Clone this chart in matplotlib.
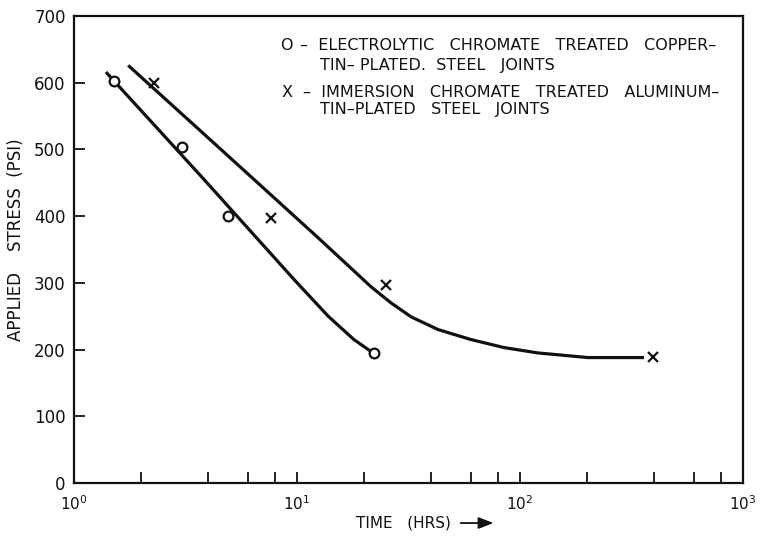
import matplotlib
matplotlib.use("Agg")
import matplotlib.pyplot as plt
from matplotlib.ticker import FixedLocator, NullFormatter

# --- data ---
copper_t = [1.51, 3.05, 4.9, 22.1]
copper_s = [602, 503, 400, 195]
alum_t = [2.28, 7.65, 25.1, 395]
alum_s = [600, 397, 297, 189]

# hand-drawn fitted curves (read as points along the drawn lines)
copper_curve_t = [1.39, 3.71, 6.9, 9.7, 13.8, 18.0, 21.5]
copper_curve_s = [616, 460, 360, 305, 250, 215, 197]
alum_curve_t = [1.75, 4.56, 12.4, 21.5, 26.4, 32.5, 42.9, 60.3, 84.8, 120, 202, 360]
alum_curve_s = [626, 500, 368, 294, 270, 249, 230, 215, 203, 195, 188, 188]

y_ticks = [0, 100, 200, 300, 400, 500, 600, 700]
x_major = [1, 10, 100, 1000]
x_major_labels = [r"$10^0$", r"$10^1$", r"$10^2$", r"$10^3$"]
legend_symbols = ["O", "X"]
legend_first = ["\u2013  ELECTROLYTIC   CHROMATE   TREATED   COPPER\u2013",
                "\u2013  IMMERSION   CHROMATE   TREATED   ALUMINUM\u2013"]
legend_second = ["TIN\u2013 PLATED.  STEEL   JOINTS",
                 "TIN\u2013PLATED   STEEL   JOINTS"]

plt.rcParams['font.family'] = ['DejaVu Sans']

fig = plt.figure(figsize=(7.61, 5.39), dpi=100)
ax = fig.add_axes([74/761, 1-483/539, (743-74)/761, (483-16)/539])

ax.set_xscale('log')
ax.set_xlim(1, 1000)
ax.set_ylim(0, 700)

lc = '#111111'
ax.plot(copper_curve_t, copper_curve_s, color=lc, lw=2.3, solid_capstyle='butt',
        solid_joinstyle='round')
ax.plot(alum_curve_t, alum_curve_s, color=lc, lw=2.3, solid_capstyle='butt',
        solid_joinstyle='round')
ax.plot(copper_t, copper_s, linestyle='none', marker='o', ms=7, mfc='white',
        mec=lc, mew=1.6, zorder=3)
ax.plot(alum_t, alum_s, linestyle='none', marker='x', ms=7, mec=lc, mew=1.6, zorder=3)

for s in ax.spines.values():
    s.set_linewidth(1.6)
    s.set_color(lc)

ax.yaxis.set_major_locator(FixedLocator(y_ticks))
ax.set_yticklabels([str(v) for v in y_ticks], fontsize=12, color=lc)
ax.xaxis.set_major_locator(FixedLocator(x_major))
ax.set_xticklabels(x_major_labels, fontsize=11, color=lc)
minors = [m * d for d in (1, 10, 100) for m in (2, 4, 6, 8)]
ax.xaxis.set_minor_locator(FixedLocator(minors))
ax.xaxis.set_minor_formatter(NullFormatter())
ax.tick_params(axis='both', which='both', direction='in', length=8, width=1.3,
               color=lc)
ax.tick_params(axis='x', which='major', pad=8)
ax.tick_params(axis='y', which='major', pad=6)

ax.set_ylabel("APPLIED    STRESS  (PSI)", fontsize=12, color=lc)
ax.yaxis.set_label_coords(-0.087, 0.52)
ax.yaxis.label.set_va('center')
ax.set_xlabel("TIME   (HRS)", fontsize=11, color=lc)
ax.xaxis.set_label_coords(0.493, -0.0857)
ax.xaxis.label.set_va('center')
ax.annotate("", xy=(0.627, -0.0857), xytext=(0.578, -0.0857),
            xycoords='axes fraction', textcoords='axes fraction',
            arrowprops=dict(arrowstyle='-|>,head_length=0.9,head_width=0.35',
                            color=lc, lw=1.3, shrinkA=0, shrinkB=0),
            annotation_clip=False)

# legend block as text
first_y = [0.936, 0.837]
first_x = [0.338, 0.342]
second_y = [0.893, 0.799]
for i in range(2):
    ax.text(0.318, first_y[i], legend_symbols[i], transform=ax.transAxes,
            fontsize=11.5, color=lc, va='center', ha='center')
    ax.text(first_x[i], first_y[i], legend_first[i], transform=ax.transAxes,
            fontsize=11.5, color=lc, va='center', ha='left')
    ax.text(0.368, second_y[i], legend_second[i], transform=ax.transAxes,
            fontsize=11.5, color=lc, va='center', ha='left')

fig.savefig("out.png", dpi=100)
